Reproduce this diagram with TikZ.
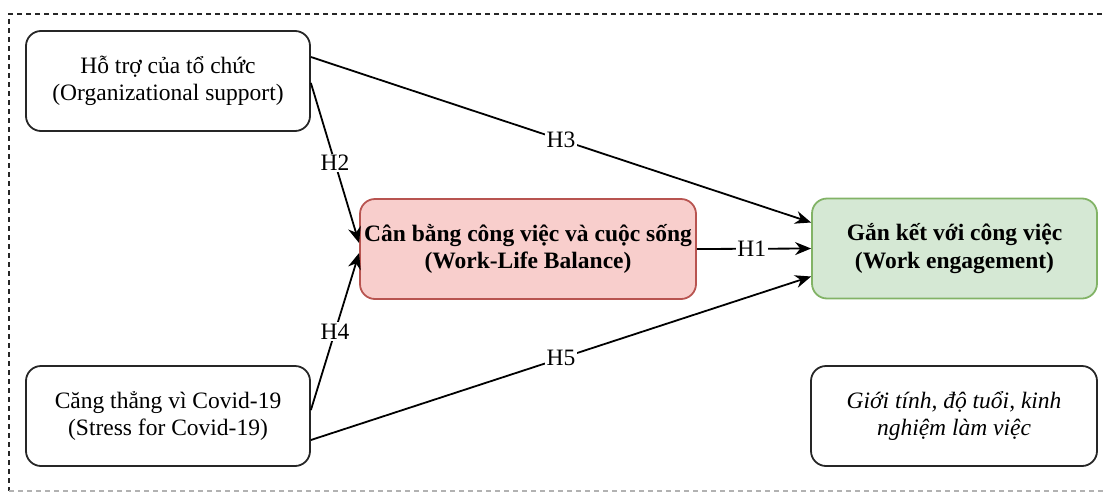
\documentclass[tikz,border=0pt]{standalone}
\usepackage{fontspec}
\setmainfont{Liberation Serif}
\usetikzlibrary{arrows.meta,calc}
\definecolor{wlbfill}{HTML}{F8CECC}
\definecolor{wlbline}{HTML}{B85450}
\definecolor{wefill}{HTML}{D5E8D4}
\definecolor{weline}{HTML}{82B366}
\tikzset{
  box/.style={draw=black!85, line width=1.8pt, rounded corners=15pt, align=center,
    minimum height=100pt, font=\fontsize{23.5}{27.5}\selectfont, inner sep=0pt},
  link/.style={line width=1.8pt, -{Stealth[length=16pt,width=13pt]}},
  hlabel/.style={fill=white, inner sep=1.5pt, font=\fontsize{23.5}{27}\selectfont},
  frame/.style={line width=1.4pt, dash pattern=on 5pt off 4pt, black!85},
}
\begin{document}
\begin{tikzpicture}[x=1pt,y=-1pt]
\useasboundingbox (0,0) rectangle (1103,493);
% outer dashed frame (its lower edge printed faintly)
\draw[frame] (1120,14) -- (9,14) -- (9,491);
\draw[frame, black!30] (9,491) -- (1120,491);
% constructs
\node[box, minimum width=284pt] (org) at (168,81) {Hỗ trợ của tổ chức\\(Organizational support)};
\node[box, minimum width=284pt] (stress) at (168,416) {Căng thẳng vì Covid-19\\(Stress for Covid-19)};
\node[box, minimum width=336pt, fill=wlbfill, draw=wlbline, font=\fontsize{23.5}{27.5}\selectfont\bfseries] (wlb) at (528,249) {Cân bằng công việc và cuộc sống\\(Work-Life Balance)};
\node[box, minimum width=285pt, fill=wefill, draw=weline, font=\fontsize{23.5}{27.5}\selectfont\bfseries] (we) at (954.5,248.5) {Gắn kết với công việc\\(Work engagement)};
\node[box, minimum width=286pt, font=\fontsize{23.5}{27.5}\selectfont\itshape] (ctrl) at (954,416) {Giới tính, độ tuổi, kinh\\nghiệm làm việc};
% hypothesised paths
\draw[link] ([yshift=24pt]org.east) -- node[hlabel]{H3} ([yshift=26pt]we.west);
\draw[link] ([yshift=-2pt]org.east) -- node[hlabel]{H2} ([yshift=6pt]wlb.west);
\draw[link] ([yshift=6pt]stress.east) -- node[hlabel]{H4} ([yshift=-4pt]wlb.west);
\draw[link] ([yshift=-24pt]stress.east) -- node[hlabel]{H5} ([yshift=-28pt]we.west);
\draw[link] (wlb.east) -- node[hlabel, pos=0.48]{H1} (we.west);
\end{tikzpicture}
\end{document}
